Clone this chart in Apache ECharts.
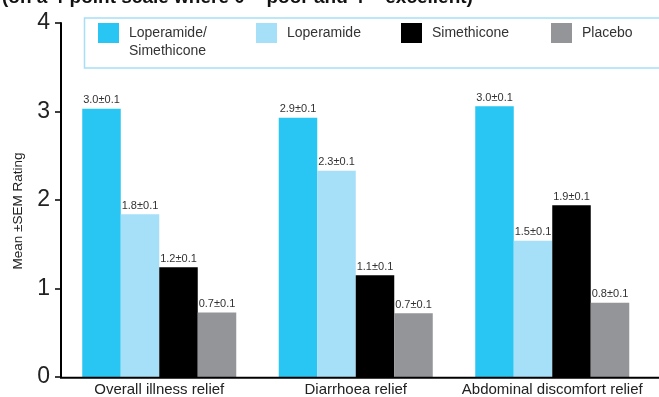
<!DOCTYPE html>
<html>
<head>
<meta charset="utf-8">
<script src="https://cdn.jsdelivr.net/npm/echarts@6/dist/echarts.min.js"></script>
<style>
html, body { margin: 0; padding: 0; background: #fff; }
#chart { width: 659px; height: 397px; }
</style>
</head>
<body>
<div id="chart"></div>
<script>
// data
var categories = ['Overall illness relief', 'Diarrhoea relief', 'Abdominal discomfort relief'];
var seriesNames = ['Loperamide/\nSimethicone', 'Loperamide', 'Simethicone', 'Placebo'];
var loperamideSimethicone = [3.03, 2.93, 3.06];
var loperamide = [1.84, 2.33, 1.54];
var simethicone = [1.24, 1.15, 1.94];
var placebo = [0.73, 0.72, 0.84];
var labelsLS = ['3.0±0.1', '2.9±0.1', '3.0±0.1'];
var labelsL = ['1.8±0.1', '2.3±0.1', '1.5±0.1'];
var labelsS = ['1.2±0.1', '1.1±0.1', '1.9±0.1'];
var labelsP = ['0.7±0.1', '0.7±0.1', '0.8±0.1'];
var yTicks = [0, 1, 2, 3, 4];

var colors = ['#29c5f3', '#a6dff8', '#000000', '#939598'];
var font = '"Liberation Sans", Arial, sans-serif';

var chart = echarts.init(document.getElementById('chart'));

function makeSeries(name, values, labels, color) {
    return {
        name: name,
        type: 'bar',
        barWidth: 38.5,
        barGap: '0%',
        itemStyle: { color: color },
        label: {
            show: true,
            position: 'top',
            distance: 3,
            color: '#333',
            fontSize: 11,
            fontFamily: font,
            formatter: function (p) { return labels[p.dataIndex]; }
        },
        data: values
    };
}

// one legend per item so each sits where the reference has it
// (first item: a blank leading line keeps "Loperamide/" level with the other names)
function legendAt(left, top, idx, leadBlank) {
    return {
        left: left,
        top: top,
        padding: 0,
        itemWidth: 21,
        itemHeight: 20,
        itemGap: 0,
        icon: 'rect',
        selectedMode: false,
        formatter: function (name) { return leadBlank ? ' \n' + name : name; },
        textStyle: {
            fontSize: 14, fontFamily: font, color: '#333', lineHeight: 18,
            padding: [0, 0, 0, 5]
        },
        data: [seriesNames[idx]]
    };
}

var option = {
    animation: false,
    textStyle: { fontFamily: font },
    title: {
        text: '(on a 4-point scale where 0 = poor and 4 = excellent)',
        left: -3,
        top: -17,
        textStyle: { fontSize: 19, fontWeight: 'bold', color: '#111', fontFamily: font }
    },
    legend: [legendAt(98, 6, 0, true), legendAt(256, 23, 1, false), legendAt(401, 23, 2, false), legendAt(551, 23, 3, false)],
    grid: { left: 61, right: 8.5, top: 23, bottom: 19.3 },
    xAxis: {
        type: 'category',
        data: categories,
        axisLine: { show: false },
        axisTick: { show: false },
        axisLabel: { color: '#222', fontSize: 15, fontFamily: font, margin: 5, interval: 0 }
    },
    yAxis: {
        type: 'value',
        min: 0,
        max: 4,
        interval: 1,
        name: 'Mean ±SEM Rating',
        nameLocation: 'middle',
        nameGap: 36,
        nameTextStyle: { fontSize: 13.5, color: '#222', fontFamily: font, padding: [0, 22, 0, 0] },
        axisLine: { show: true, lineStyle: { color: '#000', width: 2 } },
        axisTick: { show: true, length: 6, lineStyle: { color: '#000', width: 1.5 } },
        axisLabel: {
            color: '#222', fontSize: 23, fontFamily: font, margin: 11,
            formatter: function (v) { return yTicks.indexOf(v) >= 0 ? String(v) : ''; }
        },
        splitLine: { show: false }
    },
    graphic: [
        {
            type: 'rect',
            shape: { x: 84.5, y: 18, width: 620, height: 50 },
            style: { fill: null, stroke: '#a6dff8', lineWidth: 1.5 },
            z: 0
        },
        {
            type: 'line',
            shape: { x1: 60, y1: 377.7, x2: 659, y2: 377.7 },
            style: { stroke: '#000', lineWidth: 2 },
            z: 10
        }
    ],
    series: [
        makeSeries(seriesNames[0], loperamideSimethicone, labelsLS, colors[0]),
        makeSeries(seriesNames[1], loperamide, labelsL, colors[1]),
        makeSeries(seriesNames[2], simethicone, labelsS, colors[2]),
        makeSeries(seriesNames[3], placebo, labelsP, colors[3])
    ]
};

chart.setOption(option);
</script>
</body>
</html>
